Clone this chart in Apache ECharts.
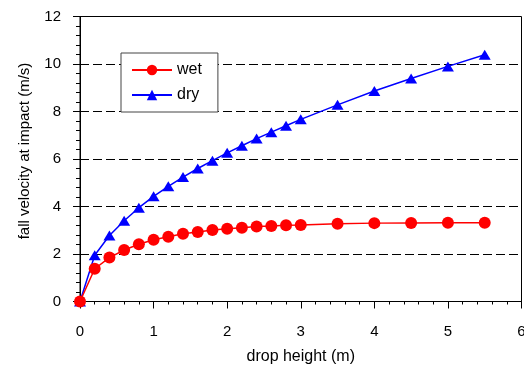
<!DOCTYPE html>
<html>
<head>
<meta charset="utf-8">
<script src="https://cdn.jsdelivr.net/npm/echarts@6/dist/echarts.min.js"></script>
<style>html,body{margin:0;padding:0;background:#fff}#c{width:524px;height:367px}</style>
</head>
<body>
<div id="c"></div>
<script>
const heights = [0, 0.2, 0.4, 0.6, 0.8, 1.0, 1.2, 1.4, 1.6, 1.8, 2.0, 2.2, 2.4, 2.6, 2.8, 3.0, 3.5, 4.0, 4.5, 5.0, 5.5];
const wet = [0, 1.38, 1.85, 2.17, 2.41, 2.6, 2.73, 2.85, 2.93, 3.01, 3.06, 3.11, 3.16, 3.18, 3.21, 3.22, 3.27, 3.3, 3.31, 3.32, 3.32];
const dry = [0, 1.95, 2.78, 3.4, 3.95, 4.43, 4.85, 5.24, 5.6, 5.93, 6.26, 6.56, 6.86, 7.13, 7.4, 7.67, 8.28, 8.86, 9.39, 9.9, 10.39];
const seriesNames = ['wet', 'dry'];
const xName = 'drop height (m)';
const yName = 'fall velocity at impact (m/s)';

const font = 'Liberation Sans, Arial, Helvetica, sans-serif';
const chart = echarts.init(document.getElementById('c'), null, {renderer: 'canvas'});
chart.setOption({
  animation: false,
  backgroundColor: '#fff',
  grid: {left: 80, right: 2.5, top: 16.5, bottom: 65.5, outerBoundsMode: 'none', containLabel: false,
         show: true, borderColor: '#000', borderWidth: 1, backgroundColor: 'transparent'},
  legend: {
    data: seriesNames,
    left: 121, top: 53,
    orient: 'vertical',
    itemWidth: 40, itemHeight: 13, itemGap: 9,
    padding: [9, 16, 9, 10],
    borderColor: '#444', borderWidth: 1, backgroundColor: '#fff',
    textStyle: {fontFamily: font, fontSize: 16, color: '#000'}
  },
  xAxis: {
    type: 'value', min: 0, max: 6, interval: 1,
    name: xName, nameLocation: 'middle', nameGap: 47,
    nameTextStyle: {fontFamily: font, fontSize: 16, color: '#000'},
    axisLine: {show: true, onZero: false, lineStyle: {color: '#000', width: 1}},
    axisTick: {show: true, inside: false, length: 7, lineStyle: {color: '#000'}},
    minorTick: {show: true, splitNumber: 5, length: 3, lineStyle: {color: '#000'}},
    axisLabel: {fontFamily: font, fontSize: 15, color: '#000', margin: 23},
    splitLine: {show: false}
  },
  yAxis: {
    type: 'value', min: 0, max: 12, interval: 2,
    name: yName, nameLocation: 'middle', nameGap: 48,
    nameTextStyle: {fontFamily: font, fontSize: 15, color: '#000', padding: [0, 0, 0, 16]},
    axisLine: {show: true, onZero: false, lineStyle: {color: '#000', width: 1}},
    axisTick: {show: true, inside: false, length: 7, lineStyle: {color: '#000'}},
    minorTick: {show: true, splitNumber: 5, length: 4, lineStyle: {color: '#000'}},
    axisLabel: {fontFamily: font, fontSize: 15, color: '#000', margin: 19},
    splitLine: {show: true, lineStyle: {color: '#000', type: [9, 4], width: 1}}
  },
  series: [
    {
      name: 'dry', type: 'line', z: 2,
      data: heights.map((h, i) => [h, dry[i]]),
      symbol: 'triangle', symbolSize: [12, 10],
      lineStyle: {color: '#0000ff', width: 1.5},
      itemStyle: {color: '#0000ff'}
    },
    {
      name: 'wet', type: 'line', z: 3,
      data: heights.map((h, i) => [h, wet[i]]),
      symbol: 'circle', symbolSize: 12,
      lineStyle: {color: '#ff0000', width: 1.5},
      itemStyle: {color: '#ff0000'}
    }
  ]
});
</script>
</body>
</html>
